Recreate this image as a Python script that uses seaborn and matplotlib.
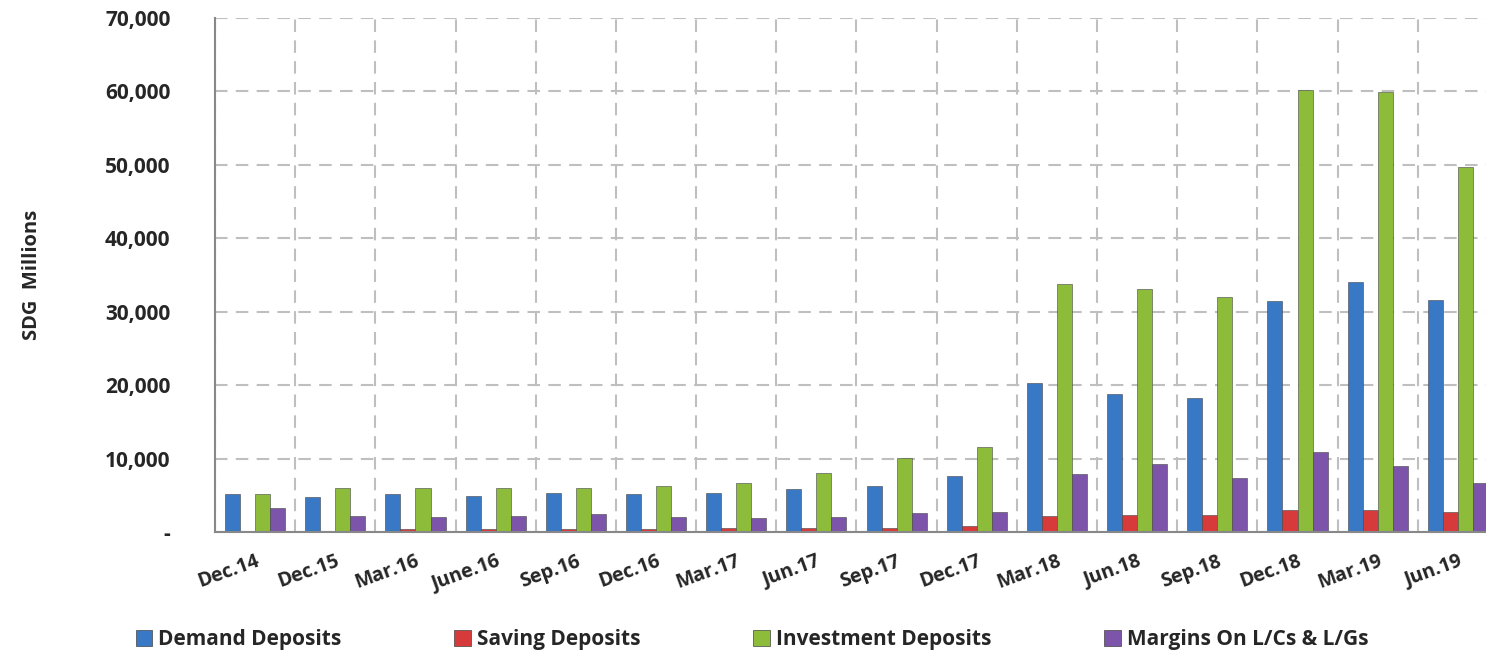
import matplotlib
matplotlib.use('Agg')
import matplotlib.pyplot as plt
from matplotlib.patches import Patch
from matplotlib.ticker import FuncFormatter, MultipleLocator
import seaborn as sns
import pandas as pd
import numpy as np

periods = ['Dec.14', 'Dec.15', 'Mar.16', 'June.16', 'Sep.16', 'Dec.16', 'Mar.17', 'Jun.17',
           'Sep.17', 'Dec.17', 'Mar.18', 'Jun.18', 'Sep.18', 'Dec.18', 'Mar.19', 'Jun.19']
demand = [5130, 4770, 5130, 4940, 5270, 5130, 5270, 5810, 6310, 7670,
          20330, 18790, 18250, 31460, 34000, 31600]
saving = [150, 200, 400, 400, 400, 450, 500, 500, 550, 800,
          2220, 2360, 2360, 3040, 3040, 2680]
investment = [5130, 5950, 5950, 5950, 5950, 6310, 6630, 7990, 10030, 11580,
              33770, 33140, 31960, 60150, 59970, 49750]
margins = [3230, 2220, 2040, 2220, 2410, 2040, 1860, 2040, 2550, 2680,
           7850, 9210, 7310, 10900, 8990, 6630]
series_names = ['Demand Deposits', 'Saving Deposits', 'Investment Deposits', 'Margins On L/Cs & L/Gs']
colors = ['#3878C4', '#D63A3A', '#8DBB3A', '#7C55AA']

df = pd.DataFrame({
    'period': periods * 4,
    'value': demand + saving + investment + margins,
    'series': [s for s in series_names for _ in periods],
})

sns.set_style('white')
plt.rcParams['font.family'] = ['Open Sans', 'DejaVu Sans']
plt.rcParams['font.weight'] = 'bold'

fig = plt.figure(figsize=(14.86, 6.58), dpi=100)
ax = fig.add_axes([215 / 1486, 126 / 658, 1283 / 1486, 514 / 658])

sns.barplot(data=df, x='period', y='value', hue='series', order=periods,
            hue_order=series_names, palette=colors, saturation=1, width=0.75, ax=ax,
            edgecolor='#444444', linewidth=0.4, legend=False)

ax.set_xlim(-0.5, len(periods) - 0.5)
ax.set_ylim(0, 70000)
ax.yaxis.set_major_locator(MultipleLocator(10000))
ax.yaxis.set_major_formatter(FuncFormatter(lambda v, p: '-' if v == 0 else f'{v:,.0f}'))

ax.set_xticks(np.arange(len(periods)))
ax.set_xticklabels(periods, rotation=20, ha='right', rotation_mode='anchor',
                   fontsize=14, fontweight='bold')
ax.set_xticks(np.arange(len(periods) + 1) - 0.5, minor=True)
ax.tick_params(axis='x', which='major', length=0, pad=14)
ax.tick_params(axis='x', which='minor', length=6, color='#888888', width=1.2, direction='out')
ax.tick_params(axis='y', length=8, color='#888888', width=1.2, direction='inout',
               labelsize=15, pad=28)
for lbl in ax.get_yticklabels():
    lbl.set_fontweight('bold')

ax.grid(True, axis='y', which='major', linestyle=(0, (6, 4)), color='#BFBFBF', linewidth=1.5)
ax.grid(True, axis='x', which='minor', linestyle=(0, (6, 4)), color='#BFBFBF', linewidth=1.5)
ax.set_axisbelow(True)

for side in ['top', 'right']:
    ax.spines[side].set_visible(False)
for side in ['left', 'bottom']:
    ax.spines[side].set_color('#888888')
    ax.spines[side].set_linewidth(1.5)

ax.set_xlabel('')
ax.set_ylabel('SDG  Millions', fontsize=14.5, fontweight='bold')
ax.yaxis.set_label_coords(-0.135, 0.5)

handles = [Patch(facecolor=c, edgecolor='#444444', linewidth=0.5) for c in colors]
fig.legend(handles, series_names, loc='center', bbox_to_anchor=(0.506, 1 - 640 / 658),
           ncol=4, frameon=False, handlelength=0.8, handleheight=0.8,
           handletextpad=0.3, columnspacing=5.4, prop={'weight': 'bold', 'size': 15})

fig.savefig('out.png', dpi=100)
